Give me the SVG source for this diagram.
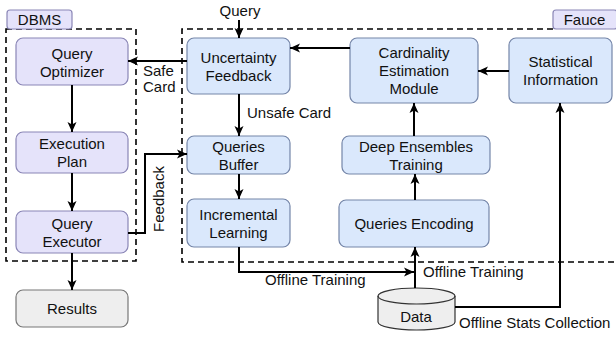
<svg xmlns="http://www.w3.org/2000/svg" width="616" height="337" viewBox="0 0 616 337">
<defs>
<marker id="ah" markerUnits="userSpaceOnUse" markerWidth="10" markerHeight="10" viewBox="0 0 10 10" refX="10" refY="5" orient="auto">
<path d="M0,0.5 L10,5 L0,9.5 L2.5,5 Z" fill="#000"/>
</marker>
<style>
text{font-family:"Liberation Sans",Arial,sans-serif;font-size:15px;fill:#111}
.c{text-anchor:middle}
.d{fill:#e5e3fa;stroke:#8a86b6;stroke-width:1.2}
.f{fill:#dae8fc;stroke:#7485a8;stroke-width:1.2}
.g{fill:#eeeeee;stroke:#777;stroke-width:1.2}
.dash{fill:none;stroke:#000;stroke-width:1.6;stroke-dasharray:6 4}
.e{fill:none;stroke:#000;stroke-width:2;marker-end:url(#ah)}
.l{fill:none;stroke:#000;stroke-width:2}
</style>
</defs>
<g id="dbms-group">
<rect class="dash" x="6" y="29" width="130" height="232"/>
<rect class="d" x="7" y="10" width="65" height="19" rx="3"/>
<text class="c" x="39.5" y="24.5">DBMS</text>
</g>
<g id="fauce-group">
<path class="dash" d="M553,29 H182 V262 H616"/>
<rect class="d" x="553" y="10" width="64" height="19" rx="3"/>
<text class="c" x="584.5" y="24.5">Fauce</text>
</g>
<g id="query-optimizer"><rect class="d" x="16" y="38" width="112" height="47" rx="7"/><text class="c" x="72" y="58.5">Query</text><text class="c" x="72" y="76.5">Optimizer</text></g>
<g id="execution-plan"><rect class="d" x="16" y="132" width="112" height="41" rx="7"/><text class="c" x="72" y="149">Execution</text><text class="c" x="72" y="167">Plan</text></g>
<g id="query-executor"><rect class="d" x="16" y="211" width="112" height="42" rx="7"/><text class="c" x="72" y="228.5">Query</text><text class="c" x="72" y="246.5">Executor</text></g>
<g id="results"><rect class="g" x="16" y="290" width="112" height="37" rx="7"/><text class="c" x="72" y="314">Results</text></g>
<g id="uncertainty-feedback"><rect class="f" x="187" y="38" width="103" height="56" rx="7"/><text class="c" x="238.5" y="63">Uncertainty</text><text class="c" x="238.5" y="81">Feedback</text></g>
<g id="queries-buffer"><rect class="f" x="187" y="136" width="103" height="38" rx="7"/><text class="c" x="238.5" y="151.5">Queries</text><text class="c" x="238.5" y="169.5">Buffer</text></g>
<g id="incremental-learning"><rect class="f" x="187" y="199" width="103" height="48" rx="7"/><text class="c" x="238.5" y="219.5">Incremental</text><text class="c" x="238.5" y="237.5">Learning</text></g>
<g id="cardinality-estimation"><rect class="f" x="350" y="38" width="128" height="65" rx="7"/><text class="c" x="414" y="58">Cardinality</text><text class="c" x="414" y="76">Estimation</text><text class="c" x="414" y="94">Module</text></g>
<g id="statistical-information"><rect class="f" x="509" y="38" width="103" height="65" rx="7"/><text class="c" x="560.5" y="67">Statistical</text><text class="c" x="560.5" y="85">Information</text></g>
<g id="deep-ensembles"><rect class="f" x="342" y="136" width="148" height="38" rx="7"/><text class="c" x="416" y="151.5">Deep Ensembles</text><text class="c" x="416" y="169.5">Training</text></g>
<g id="queries-encoding"><rect class="f" x="339" y="200" width="150" height="47" rx="7"/><text class="c" x="414" y="228.5">Queries Encoding</text></g>
<g id="data">
<path class="g" style="stroke:#333" d="M378,296 A38.5,8 0 0 1 455,296 V322 A38.5,8 0 0 1 378,322 Z"/>
<path style="fill:none;stroke:#333;stroke-width:1.2" d="M378,296 A38.5,8 0 0 0 455,296"/>
<text class="c" x="416" y="322">Data</text>
</g>
<g id="connectors">
<path class="e" d="M239,20 V38"/>
<path class="e" d="M187,61 H128"/>
<path class="e" d="M350,48 H290"/>
<path class="e" d="M509,71 H478"/>
<path class="e" d="M239,94 V136"/>
<path class="e" d="M239,174 V199"/>
<path class="e" d="M72,85 V132"/>
<path class="e" d="M72,173 V211"/>
<path class="e" d="M72,253 V290"/>
<path class="e" d="M128,233 H145 V154 H187"/>
<path class="e" d="M239,247 V272 H414"/>
<path class="e" d="M415,288 V247"/>
<path class="e" d="M415,200 V174"/>
<path class="e" d="M414,136 V103"/>
<path class="e" d="M455,307 H560 V103"/>
</g>
<g id="labels">
<text x="240" y="16" class="c">Query</text>
<text x="143" y="76">Safe</text>
<text x="143" y="92">Card</text>
<text x="247" y="118">Unsafe Card</text>
<text class="c" transform="translate(164,199) rotate(-90)">Feedback</text>
<text x="265" y="285">Offline Training</text>
<text x="423" y="277">Offline Training</text>
<text x="459" y="328">Offline Stats Collection</text>
</g>
</svg>
